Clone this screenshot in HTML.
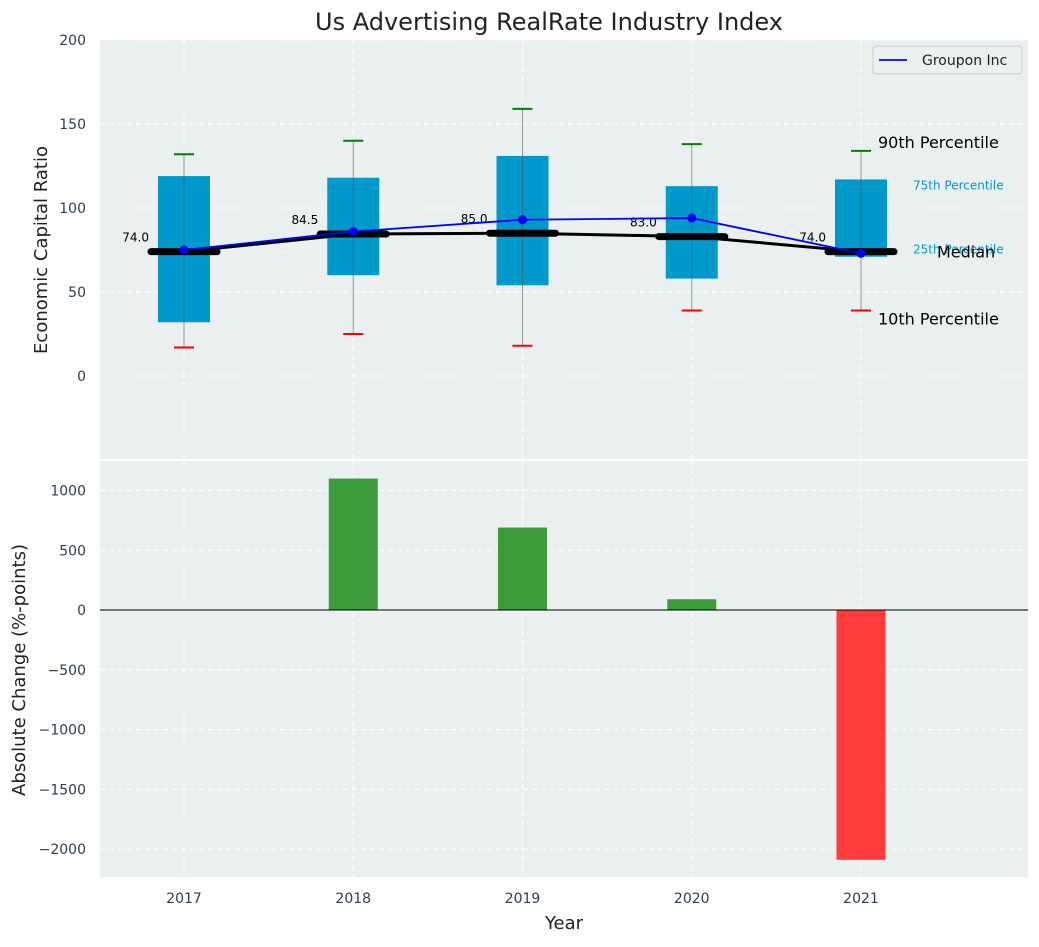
<!DOCTYPE html>
<html><head><meta charset="utf-8"><style>
body{margin:0;background:#fff;font-family:"Liberation Sans","DejaVu Sans",sans-serif;}
svg text{font-family:"DejaVu Sans","Liberation Sans",sans-serif;}
</style></head><body>
<svg id="chart" width="1039" height="942" viewBox="0 0 1039 942" xmlns="http://www.w3.org/2000/svg"></svg>
<script>
const years=[2017,2018,2019,2020,2021];
const p10=[17,25,18,39,39];
const q1=[32,60,54,58,71];
const medians=[74,84.5,85,83,74];
const q3=[119,118,131,113,117];
const p90=[132,140,159,138,134];
const groupon=[75,86,93,94,73];
const changes=[0,1100,690,90,-2090];
const topTicks=[0,50,100,150,200];
const botTicks=[-2000,-1500,-1000,-500,0,500,1000];

const svg=document.getElementById('chart');
const NS='http://www.w3.org/2000/svg';
function el(t,a,txt){const e=document.createElementNS(NS,t);for(const k in a)e.setAttribute(k,a[k]);if(txt!==undefined)e.textContent=txt;svg.appendChild(e);return e;}
const L=100,R=1028;
const xs=v=>184+(v-2017)*169.25;
const T0=40,T1=459;const ty=v=>T1-(v+49.4)/(249.4)*(T1-T0);
const B0=460,B1=877;const by=v=>610-v*0.1195;

let e;
e=el('rect',{x:L,y:T0,width:R-L,height:T1-T0,fill:'#eaeff0'});

e=el('rect',{x:L,y:B0+1,width:R-L,height:B1-B0-1,fill:'#eaeff0'});

years.forEach(y=>{[[T0,T1],[B0,B1]].forEach(r=>{const g=el('line',{x1:xs(y),x2:xs(y),y1:r[0],y2:r[1],stroke:'#fff','stroke-dasharray':'5,4','stroke-width':1});});});
topTicks.forEach(t=>{const g=el('line',{x1:L,x2:R,y1:ty(t),y2:ty(t),stroke:'#fff','stroke-dasharray':'5,4'});
const l=el('text',{x:86,y:ty(t)+5,'text-anchor':'end','font-size':14,fill:'#2c3e50'},t);});
botTicks.forEach(t=>{const g=el('line',{x1:L,x2:R,y1:by(t),y2:by(t),stroke:'#fff','stroke-dasharray':'5,4'});
const l=el('text',{x:86,y:by(t)+5,'text-anchor':'end','font-size':14,fill:'#2c3e50'},t<0?'\u2212'+(-t):t);});
const bw=26;
years.forEach((y,i)=>{const x=xs(y);
e=el('rect',{x:x-bw,y:ty(q3[i]),width:2*bw,height:ty(q1[i])-ty(q3[i]),fill:'#0099cc'});
e=el('line',{x1:x,x2:x,y1:ty(p10[i]),y2:ty(p90[i]),stroke:'#555','stroke-opacity':0.6,'stroke-width':1});
e=el('line',{x1:x-10,x2:x+10,y1:ty(p90[i]),y2:ty(p90[i]),stroke:'green','stroke-width':2});
e=el('line',{x1:x-10,x2:x+10,y1:ty(p10[i]),y2:ty(p10[i]),stroke:'red','stroke-width':2});
});
e=el('polyline',{points:years.map((y,i)=>xs(y)+','+ty(medians[i])).join(' '),fill:'none',stroke:'#000','stroke-width':3});
years.forEach((y,i)=>{const x=xs(y);
e=el('line',{x1:x-33,x2:x+33,y1:ty(medians[i]),y2:ty(medians[i]),stroke:'#000','stroke-width':7,'stroke-linecap':'round'});
e=el('text',{x:x-35,y:ty(medians[i])-10,'text-anchor':'end','font-size':12,fill:'#000'},medians[i].toFixed(1));
});
e=el('polyline',{points:years.map((y,i)=>xs(y)+','+ty(groupon[i])).join(' '),fill:'none',stroke:'blue','stroke-width':1.8});
years.forEach((y,i)=>{e=el('circle',{cx:xs(y),cy:ty(groupon[i]),r:4.5,fill:'blue'});});
const lx=xs(2021);
e=el('text',{x:lx+17,y:ty(p90[4])-3,'font-size':16,fill:'#000'},'90th Percentile');
e=el('text',{x:lx+52,y:ty(q3[4])+10,'font-size':12,fill:'#0099cc'},'75th Percentile');
e=el('text',{x:lx+52,y:ty(q1[4])-3,'font-size':12,fill:'#0099cc'},'25th Percentile');
e=el('text',{x:lx+76,y:ty(medians[4])+6,'font-size':16,fill:'#000'},'Median');
e=el('text',{x:lx+17,y:ty(p10[4])+14,'font-size':16,fill:'#000'},'10th Percentile');
e=el('rect',{x:873,y:46,width:149,height:28,rx:3,fill:'#eaeff0',stroke:'#ccc'});
e=el('line',{x1:879,x2:907,y1:60,y2:60,stroke:'blue','stroke-width':1.8});
e=el('text',{x:922,y:65,'font-size':14,fill:'#222'},'Groupon Inc');
years.forEach((y,i)=>{const v=changes[i];if(v===0)return;const x=xs(y);
e=el('rect',{x:x-24.5,y:Math.min(by(0),by(v)),width:49,height:Math.abs(by(v)-by(0)),fill:v>=0?'#3a9c3a':'#ff3b3b'});});
e=el('line',{x1:L,x2:R,y1:by(0),y2:by(0),stroke:'#000','stroke-width':1});
years.forEach(y=>{e=el('text',{x:xs(y),y:903,'text-anchor':'middle','font-size':14,fill:'#2c3e50'},y);});
e=el('text',{x:549,y:30,'text-anchor':'middle','font-size':24,fill:'#222'},'Us Advertising RealRate Industry Index');
e=el('text',{x:564,y:929,'text-anchor':'middle','font-size':18,fill:'#222'},'Year');
e=el('text',{x:0,y:0,'text-anchor':'middle','font-size':18,fill:'#222',transform:'translate(47,250) rotate(-90)'},'Economic Capital Ratio');
e=el('text',{x:0,y:0,'text-anchor':'middle','font-size':18,fill:'#222',transform:'translate(25,670) rotate(-90)'},'Absolute Change (%-points)');
</script>
</body></html>
